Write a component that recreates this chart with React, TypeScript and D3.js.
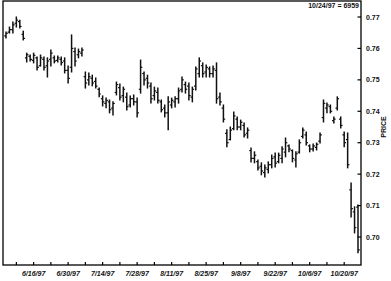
import React from "react";
import * as d3 from "d3";

const W = 391;
const H = 281;

const startDate = "1997-06-04";
const endDate = "1997-10-24";

const highs = [
  0.7652, 0.7668, 0.7684, 0.77, 0.769, 0.7655, 0.7585, 0.7579, 0.7585, 0.7573,
  0.7579, 0.7573, 0.757, 0.7595, 0.7576, 0.7576, 0.7573, 0.757, 0.7544, 0.7643,
  0.7601, 0.7598, 0.7601, 0.7525, 0.7522, 0.7515, 0.7506, 0.7474, 0.7449, 0.7442,
  0.7436, 0.743, 0.7493, 0.7487, 0.7477, 0.7458, 0.7449, 0.7452, 0.7442, 0.7563,
  0.7525, 0.7515, 0.749, 0.7477, 0.7474, 0.7436, 0.742, 0.7446, 0.7442, 0.7446,
  0.7474, 0.7509, 0.7493, 0.749, 0.7477, 0.7541, 0.757, 0.7554, 0.7547, 0.7541,
  0.7544, 0.7554, 0.7458, 0.742, 0.7341, 0.735, 0.7398, 0.7382, 0.7372, 0.7363,
  0.7347, 0.7283, 0.7271, 0.7245, 0.7236, 0.7229, 0.7239, 0.7261, 0.7267, 0.7267,
  0.7287, 0.7315, 0.7293, 0.7277, 0.7271, 0.7309, 0.7347, 0.7334, 0.7293, 0.7296,
  0.7299, 0.7331, 0.7436, 0.7426, 0.742, 0.7382, 0.7446, 0.7382, 0.7334, 0.7331,
  0.7172, 0.7096, 0.7102,
];

const lows = [
  0.7633, 0.7649, 0.7649, 0.7668, 0.7665, 0.7627, 0.7557, 0.756, 0.7554, 0.7531,
  0.7544, 0.7531, 0.7509, 0.7544, 0.7554, 0.7557, 0.7547, 0.7522, 0.749, 0.7525,
  0.7544, 0.757, 0.7576, 0.7474, 0.7484, 0.7481, 0.7474, 0.7446, 0.7417, 0.7411,
  0.7395, 0.7388, 0.7452, 0.7436, 0.743, 0.7404, 0.7414, 0.742, 0.7382, 0.7458,
  0.7484, 0.7474, 0.7426, 0.7436, 0.7426, 0.7398, 0.7382, 0.7341, 0.7411, 0.7414,
  0.7426, 0.7461, 0.7458, 0.7436, 0.743, 0.7468, 0.7509, 0.7509, 0.7509, 0.7509,
  0.7509, 0.7426, 0.742, 0.7366, 0.7287, 0.7309, 0.7341, 0.7341, 0.7341, 0.7318,
  0.7315, 0.7239, 0.7236, 0.7213, 0.7198, 0.7191, 0.7204, 0.722, 0.7223, 0.7236,
  0.7236, 0.7255, 0.7271, 0.7239, 0.7223, 0.7267, 0.7315, 0.7293, 0.7271, 0.7274,
  0.7277, 0.7299, 0.7366, 0.7395, 0.7395, 0.7363, 0.7404, 0.7347, 0.7287, 0.722,
  0.7064, 0.7013, 0.695,
];

const opens = [
  0.764, 0.7652, 0.766, 0.768, 0.7685, 0.7645, 0.757, 0.7575, 0.7562, 0.757,
  0.7545, 0.7565, 0.7545, 0.7565, 0.757, 0.7562, 0.7565, 0.756, 0.753, 0.754,
  0.759, 0.758, 0.7585, 0.751, 0.75, 0.7505, 0.7495, 0.747, 0.744, 0.7425,
  0.743, 0.741, 0.746, 0.7475, 0.745, 0.7445, 0.742, 0.744, 0.743, 0.747,
  0.752, 0.7505, 0.748, 0.745, 0.746, 0.743, 0.741, 0.7395, 0.742, 0.743,
  0.744, 0.747, 0.7485, 0.748, 0.7445, 0.748, 0.752, 0.7545, 0.7525, 0.7535,
  0.752, 0.753, 0.7445, 0.741, 0.733, 0.731, 0.7345, 0.7375, 0.735, 0.7355,
  0.733, 0.7275, 0.725, 0.724, 0.7225, 0.7205, 0.7215, 0.723, 0.7255, 0.724,
  0.725, 0.727, 0.729, 0.7275, 0.7245, 0.727, 0.732, 0.7325, 0.729, 0.728,
  0.7285, 0.7305, 0.738, 0.741, 0.7415, 0.737, 0.741, 0.7375, 0.7325, 0.731,
  0.715, 0.708, 0.7095,
];

const closes = [
  0.7648, 0.766, 0.7675, 0.769, 0.767, 0.7632, 0.758, 0.7565, 0.7578, 0.754,
  0.757, 0.754, 0.756, 0.7585, 0.756, 0.757, 0.7555, 0.753, 0.7505, 0.76,
  0.756, 0.759, 0.7595, 0.749, 0.751, 0.749, 0.748, 0.7455, 0.743, 0.7435,
  0.7405, 0.7425, 0.7485, 0.7445, 0.747, 0.7415, 0.744, 0.743, 0.7395, 0.754,
  0.75, 0.749, 0.744, 0.7465, 0.7435, 0.7405, 0.7395, 0.743, 0.7435, 0.744,
  0.7465, 0.75, 0.747, 0.745, 0.747, 0.7535, 0.756, 0.752, 0.754, 0.752,
  0.7535, 0.744, 0.743, 0.7375, 0.73, 0.734, 0.7385, 0.735, 0.7365, 0.7325,
  0.734, 0.725, 0.726, 0.722, 0.721, 0.722, 0.723, 0.725, 0.7235, 0.726,
  0.728, 0.73, 0.728, 0.725, 0.7265, 0.73, 0.734, 0.73, 0.728, 0.729,
  0.7295, 0.7325, 0.7425, 0.742, 0.74, 0.7375, 0.744, 0.7355, 0.73, 0.723,
  0.709, 0.703, 0.6959,
];

const yTicks = [0.7, 0.71, 0.72, 0.73, 0.74, 0.75, 0.76, 0.77];
const xLabelDates = [
  "6/16/97", "6/30/97", "7/14/97", "7/28/97", "8/11/97",
  "8/25/97", "9/8/97", "9/22/97", "10/6/97", "10/20/97",
];
const headerText = "10/24/97 = 6959";
const axisTitle = "PRICE";

// trading (week) days between start and end
const tradingDays: Date[] = d3
  .timeDay.range(new Date(startDate + "T00:00:00"), d3.timeDay.offset(new Date(endDate + "T00:00:00"), 1))
  .filter((d) => d.getDay() !== 0 && d.getDay() !== 6);

const fmt = d3.timeFormat("%-m/%-d/%y");

const plot = { left: 3, right: 361, top: 1, bottom: 265 };

export default function App() {
  const n = highs.length;
  const x = d3.scaleLinear().domain([0, n - 1]).range([6, 358]);
  const y = d3.scaleLinear().domain([0.7, 0.77]).range([237, 17]);

  const mondays = tradingDays
    .map((d, i) => ({ d, i }))
    .filter((o) => o.d.getDay() === 1 && o.i < n);
  const labelled = mondays.filter((o) => xLabelDates.includes(fmt(o.d)));

  const font = "'Liberation Sans', Arial, sans-serif";

  return (
    <svg
      width={W}
      height={H}
      style={{ position: "absolute", left: 0, top: 0, background: "#fff" }}
    >
      <rect
        x={plot.left}
        y={plot.top}
        width={plot.right - plot.left}
        height={plot.bottom - plot.top}
        fill="none"
        stroke="#000"
        strokeWidth={1.3}
      />
      {/* bars */}
      <g stroke="#111" strokeWidth={1.5}>
        {highs.map((h, i) => {
          const cx = x(i);
          return (
            <g key={i}>
              <line x1={cx} x2={cx} y1={y(h) - 0.5} y2={y(lows[i]) + 0.5} />
              <line x1={cx - 1.8} x2={cx} y1={y(opens[i])} y2={y(opens[i])} strokeWidth={1.2} />
              <line x1={cx} x2={cx + 1.8} y1={y(closes[i])} y2={y(closes[i])} strokeWidth={1.2} />
            </g>
          );
        })}
      </g>
      {/* y axis ticks & labels on right */}
      <g>
        {yTicks.map((t) => (
          <g key={t}>
            <line x1={plot.right - 3.5} x2={plot.right} y1={y(t)} y2={y(t)} stroke="#000" strokeWidth={1.2} />
            <text
              x={plot.right + 5}
              y={y(t) + 2.5}
              fontFamily={font}
              fontSize={7}
              fontWeight="bold"
              fill="#111"
            >
              {d3.format(".2f")(t)}
            </text>
          </g>
        ))}
        <text
          transform={`translate(${386},${127}) rotate(-90)`}
          textAnchor="middle"
          fontFamily={font}
          fontSize={7}
          fontWeight="bold"
          fill="#111"
        >
          {axisTitle}
        </text>
      </g>
      {/* x axis ticks & labels */}
      <g>
        {mondays.map((o) => (
          <line
            key={o.i}
            x1={x(o.i)}
            x2={x(o.i)}
            y1={plot.bottom}
            y2={plot.bottom - 3}
            stroke="#000"
            strokeWidth={1.2}
          />
        ))}
        {labelled.map((o) => (
          <text
            key={o.i}
            x={x(o.i)}
            y={276}
            textAnchor="middle"
            fontFamily={font}
            fontSize={7}
            fontWeight="bold"
            fontStyle="italic"
            fill="#111"
          >
            {fmt(o.d)}
          </text>
        ))}
      </g>
      <text
        x={plot.right - 2}
        y={8}
        textAnchor="end"
        fontFamily={font}
        fontSize={7}
        fontWeight="bold"
        fill="#111"
      >
        {headerText}
      </text>
    </svg>
  );
}
